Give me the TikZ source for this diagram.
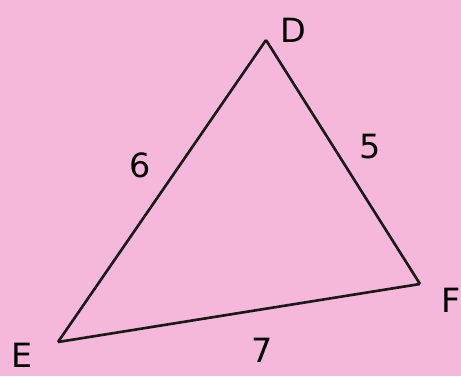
\documentclass[tikz,border=0pt]{standalone}
\usepackage{fontspec}
\setsansfont{DejaVu Sans}
\usepackage{tikz}
\usetikzlibrary{positioning}
\definecolor{paperpink}{RGB}{246,184,218}

\begin{document}
\begin{tikzpicture}[
  side/.style={line width=1.5pt, black!90},
  vlbl/.style={font=\fontsize{19}{22}\sffamily, inner sep=1pt},
  slbl/.style={font=\fontsize{19}{22}\sffamily, inner sep=1pt}
]
% Paper
\fill[paperpink] (0,0) rectangle (9.22,7.52);
\useasboundingbox (0,0) rectangle (9.22,7.52);

% Vertices
\coordinate (d) at (5.32,6.72);
\coordinate (e) at (1.16,0.68);
\coordinate (f) at (8.40,1.84);

% Vertex labels
\node[vlbl] (lblD) at (5.86,6.92) {D};
\node[vlbl] (lblE) at (0.44,0.42) {E};
\node[vlbl] (lblF) at (9.02,1.52) {F};

% Sides
\draw[side] (e) -- (d);
\draw[side] (d) -- (f);
\draw[side] (f) -- (e);

% Side lengths
\node[slbl] (sixDE)   at (2.80,4.22) {6};
\node[slbl] (fiveDF)  at (7.40,4.58) {5};
\node[slbl] (sevenEF) at (5.24,0.52) {7};
\end{tikzpicture}
\end{document}
